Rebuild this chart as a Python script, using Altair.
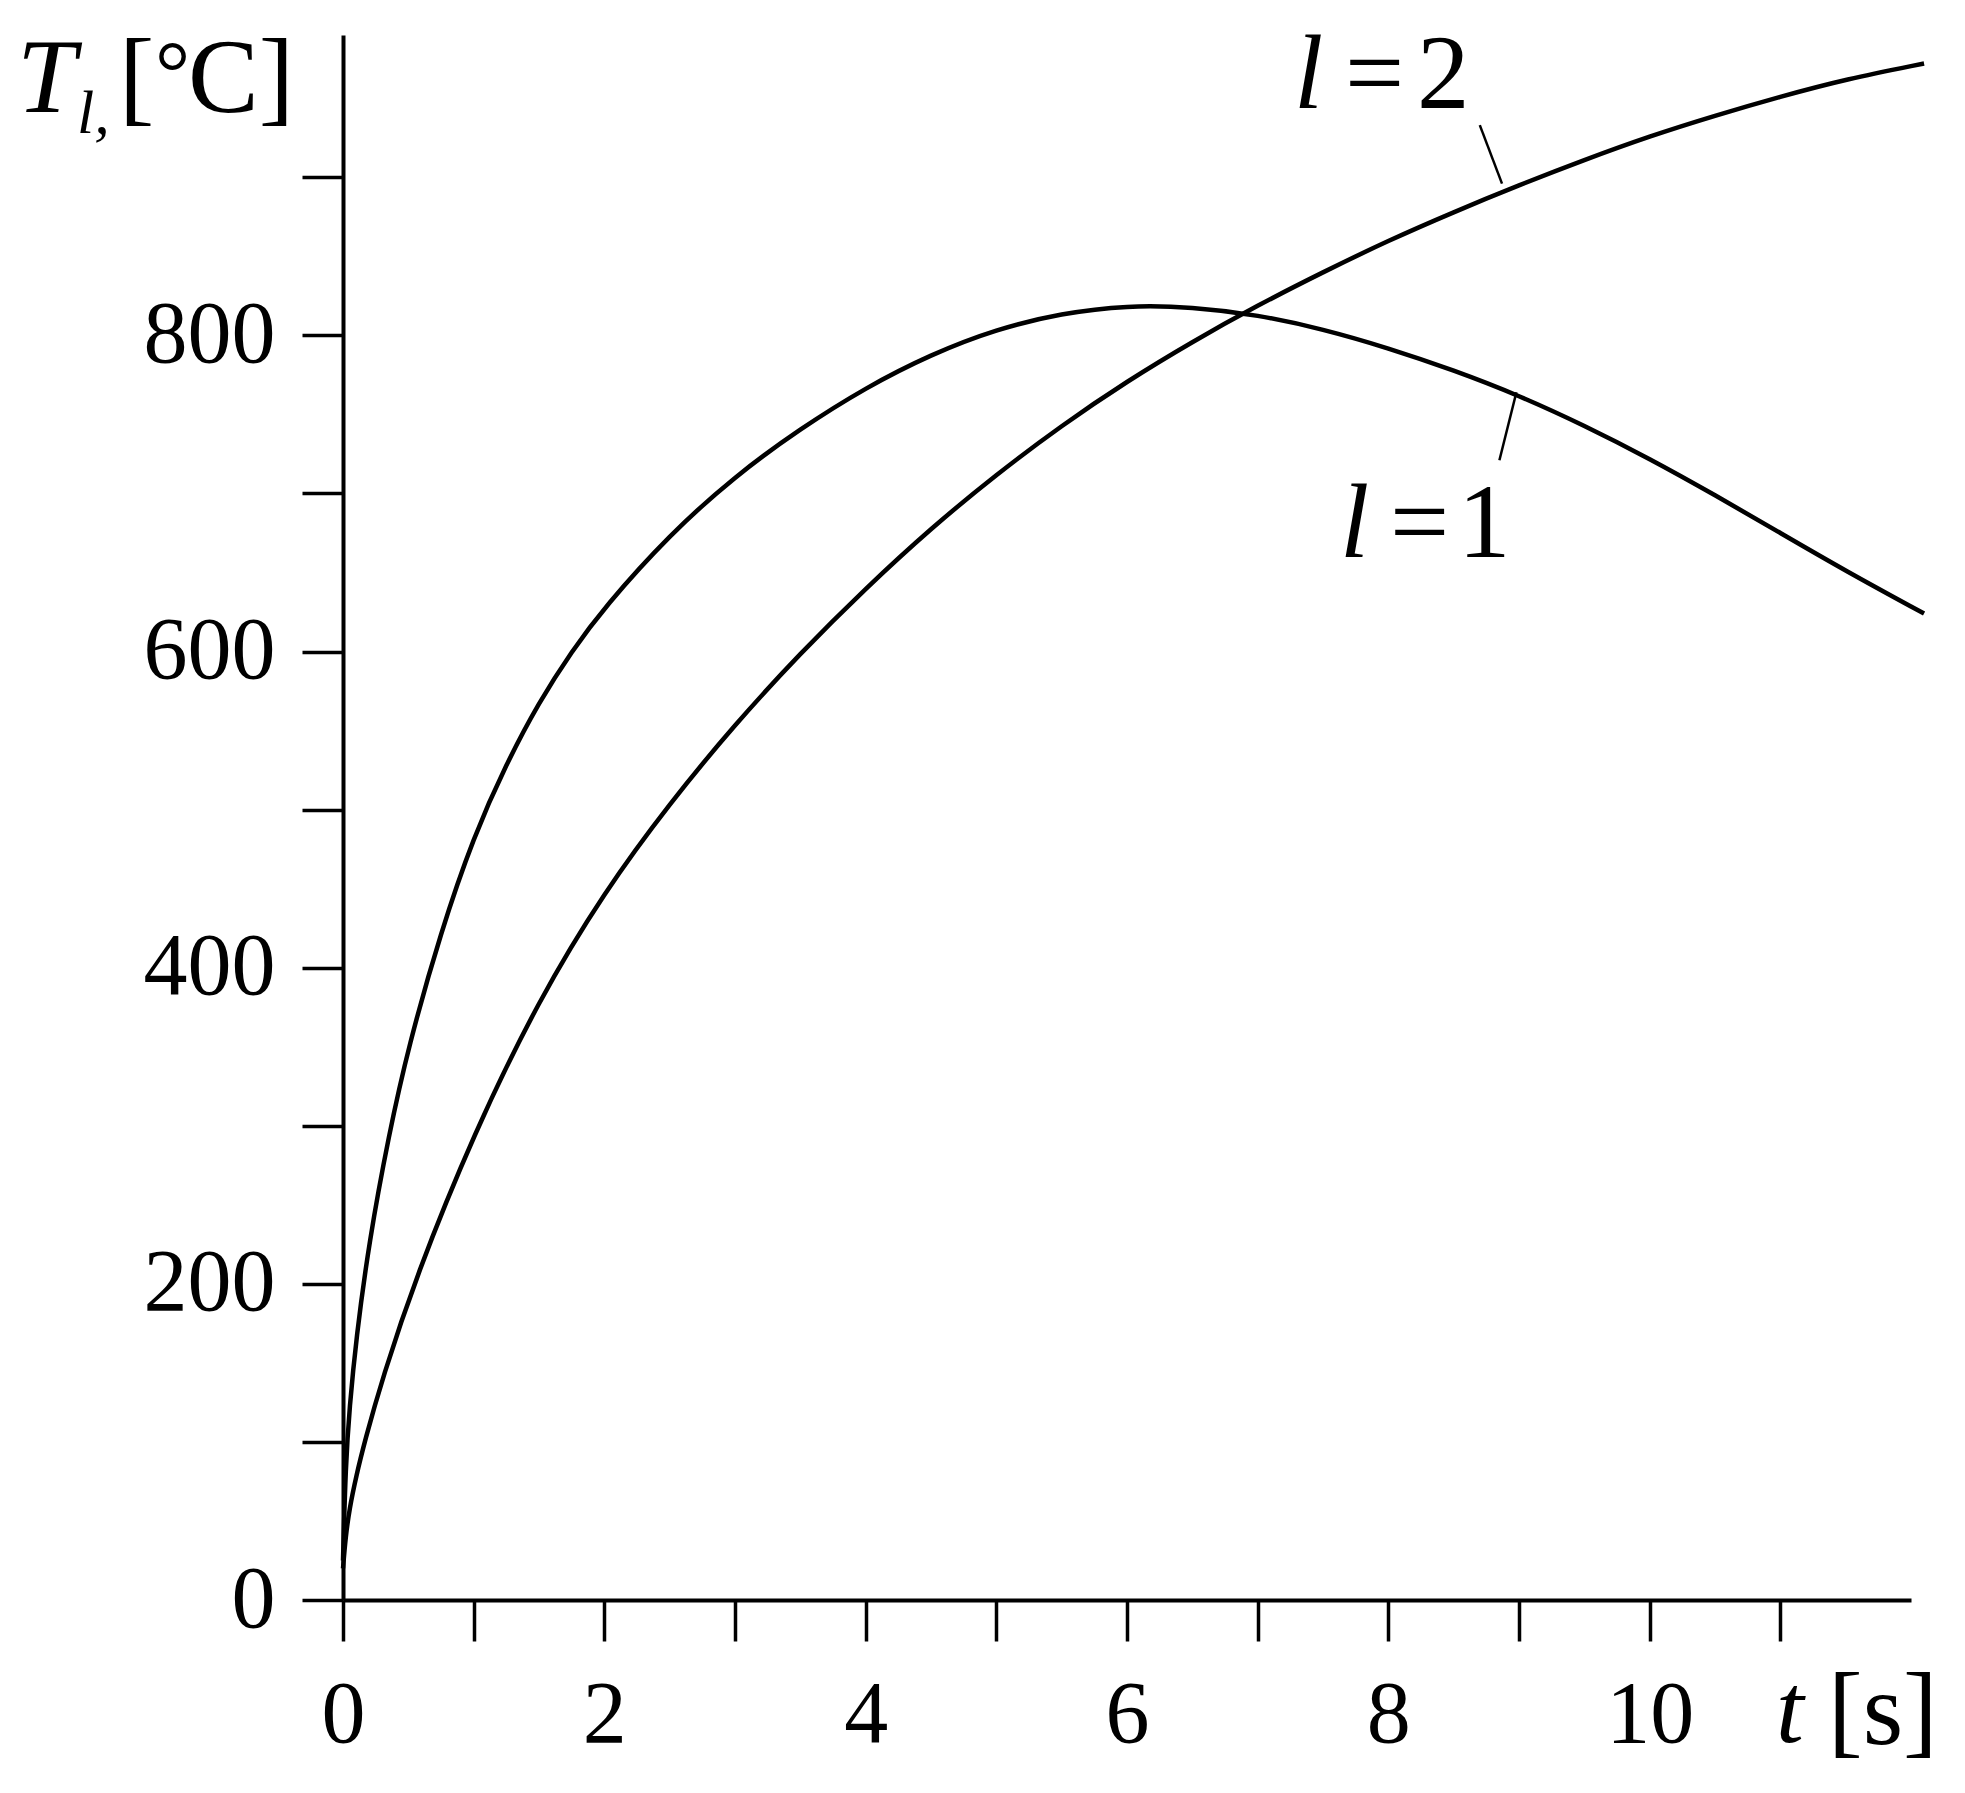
import altair as alt
import pandas as pd

# ---- data ----
t_l1 = [0, 0.02, 0.05, 0.1, 0.2, 0.35, 0.5, 0.75, 1.0, 1.25, 1.5, 1.75, 2.0, 2.5, 3.0,
        3.5, 4.0, 4.5, 5.0, 5.5, 6.0, 6.5, 7.0, 7.5, 8.0, 8.5, 9.0, 9.5, 10.0, 10.5,
        11.0, 11.5, 12.1]
T_l1 = [25, 85, 122, 165, 227, 294, 350, 423, 483, 529, 568, 600, 628, 674, 711,
        741, 767, 788, 804, 814, 819, 818, 813, 804, 792, 778, 762, 743, 722, 699,
        675, 651, 624]

t_l2 = [0, 0.02, 0.05, 0.1, 0.165, 0.3, 0.56, 1.0, 1.5, 2.0, 2.5, 3.0, 3.5, 4.0, 4.5,
        5.0, 5.5, 6.0, 6.5, 7.0, 7.5, 8.0, 8.5, 9.0, 9.5, 10.0, 10.5, 11.0, 11.5, 12.1]
T_l2 = [20, 40, 58, 78, 100, 140, 205, 295, 380, 448, 504, 554, 599, 640, 678,
        712, 743, 771, 796, 819, 840, 860, 878, 895, 911, 926, 939, 951, 962, 972]

x_ticks = list(range(0, 12))
y_ticks = list(range(0, 1000, 100))

# leader lines (label end -> curve point), in data units
leader_t = [8.70, 8.98]
leader_T = [933, 764]
leader_t2 = [8.87, 8.85]
leader_T2 = [896, 721]

FONT = "Liberation Serif"

rows = [{"t": t, "T": v, "series": "l=1"} for t, v in zip(t_l1, T_l1)] + \
       [{"t": t, "T": v, "series": "l=2"} for t, v in zip(t_l2, T_l2)]
df = pd.DataFrame(rows)

xscale = alt.Scale(domain=[0, 12], nice=False)
yscale = alt.Scale(domain=[0, 990], nice=False)

common = dict(tickSize=41, tickWidth=3.5, domainWidth=4, domainColor="black",
              tickColor="black", labelFont=FONT, labelFontSize=88, labelColor="black",
              labelFlush=False, labelOverlap=False, grid=False, format="d", title=None)

xaxis = alt.Axis(values=x_ticks, labelExpr="datum.value % 2 == 0 ? datum.label : ''",
                 labelPadding=30, **common)
yaxis = alt.Axis(values=y_ticks, labelExpr="datum.value % 200 == 0 ? datum.label : ''",
                 labelPadding=27, **common)

lines = alt.Chart(df).mark_line(color="black", strokeWidth=4.5, interpolate="basis",
                                clip=False).encode(
    x=alt.X("t:Q", scale=xscale, axis=xaxis),
    y=alt.Y("T:Q", scale=yscale, axis=yaxis),
    detail="series:N",
)

ldf = pd.DataFrame({"t": leader_t, "T": leader_T, "t2": leader_t2, "T2": leader_T2})
leaders = alt.Chart(ldf).mark_rule(color="black", strokeWidth=2.5, clip=False).encode(
    x="t:Q", y="T:Q", x2="t2:Q", y2="T2:Q")

one = pd.DataFrame({"a": [0]})


def txt(s, x, y, size, italic=False):
    return alt.Chart(one).mark_text(
        font=FONT, fontSize=size, fontStyle="italic" if italic else "normal",
        align="left", baseline="alphabetic", color="black", clip=False,
    ).encode(x=alt.value(x), y=alt.value(y), text=alt.value(s))


annotations = [
    # y-axis title  T_l, [°C]
    txt("T", -326, 77, 106, True),
    txt("l,", -266, 98, 62, True),
    txt("[", -224, 77, 106),
    txt("°", -188, 67, 88),
    txt("C]", -155, 77, 106),
    # x-axis title  t [s]
    txt("t", 1433, 1707, 100, True),
    txt("[s]", 1485, 1709, 104),
    # curve labels
    txt("l", 951, 73, 105, True),
    txt("=", 1002, 73, 105),
    txt("2", 1074, 73, 105),
    txt("l", 997, 522, 105, True),
    txt("=", 1047, 522, 105),
    txt("1", 1115, 522, 105),
]

chart = alt.layer(lines, leaders, *annotations).properties(
    width=1568, height=1565,
    autosize=alt.AutoSizeParams(type="none"),
    padding={"left": 335, "top": 27, "right": 40, "bottom": 180},
).configure_view(stroke=None)

chart.save("out.html", embed_options={"renderer": "svg", "actions": False})
